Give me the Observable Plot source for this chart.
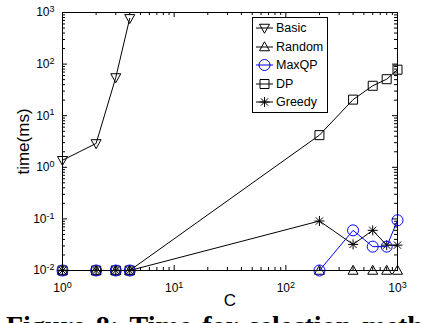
<!DOCTYPE html>
<html>
<head>
<meta charset="utf-8">
<script src="https://cdn.jsdelivr.net/npm/d3@7"></script>
<script src="https://cdn.jsdelivr.net/npm/@observablehq/plot@0.6"></script>
<style>
  html, body { margin: 0; padding: 0; background: white; }
  #wrap { position: relative; width: 423px; height: 323px; overflow: hidden; background: white; }
  #legend { position: absolute; left: 252px; top: 17px; width: 74px; height: 94px; border: 1px solid black; background: white;
            font-family: "Liberation Sans", Arial, sans-serif; font-size: 12.5px; }
  .lrow { position: absolute; left: 0; height: 18px; display: flex; align-items: center; }
  .lrow svg { display: block; margin-left: 2px; }
  .lrow span { margin-left: 2px; }
  #caption { position: absolute; left: 6px; top: 312px; font-family: "Liberation Serif", "DejaVu Serif", serif; font-weight: bold;
             font-size: 28px; line-height: 28px; white-space: nowrap; word-spacing: 4px; }
</style>
</head>
<body>
<div id="wrap"></div>
<script>
// ---- data ----
const cBasic = [1, 2, 3, 4];
const basic = [1.37, 2.9, 55, 770];
const cAll = [1, 2, 3, 4, 200, 400, 600, 800, 1000];
const random = [0.01, 0.01, 0.01, 0.01, 0.01, 0.01, 0.01, 0.01, 0.01];
const maxqp = [0.01, 0.01, 0.01, 0.01, 0.01, 0.06, 0.029, 0.029, 0.094];
const dp = [0.01, 0.01, 0.01, 0.01, 4.2, 20.5, 38, 51, 78];
const greedy = [0.01, 0.01, 0.01, 0.01, 0.091, 0.032, 0.06, 0.031, 0.031];
const seriesNames = ["Basic", "Random", "MaxQP", "DP", "Greedy"];
const seriesColors = ["black", "black", "#0000ff", "black", "black"];
const xTicks = [1, 10, 100, 1000];
const yTicks = [0.01, 0.1, 1, 10, 100, 1000];
const xLabel = "C";
const yLabel = "time(ms)";
const captionText = "Figure 8: Time for selection methods";

// ---- marker symbols ----
const rad = size => Math.sqrt(size / Math.PI);
const symTriDown = { draw(ctx, size) { const r = rad(size); ctx.moveTo(-r, -r * 0.75); ctx.lineTo(r, -r * 0.75); ctx.lineTo(0, r * 1.05); ctx.closePath(); } };
const symTriUp = { draw(ctx, size) { const r = rad(size); ctx.moveTo(-r, r * 0.75); ctx.lineTo(r, r * 0.75); ctx.lineTo(0, -r * 1.05); ctx.closePath(); } };
const symCircle = { draw(ctx, size) { const r = rad(size) * 1.1; ctx.moveTo(r, 0); ctx.arc(0, 0, r, 0, 2 * Math.PI); } };
const symSquare = { draw(ctx, size) { const r = rad(size) * 0.9; ctx.rect(-r, -r, 2 * r, 2 * r); } };
const symStar = { draw(ctx, size) { const r = rad(size); const d = r * 0.72;
  ctx.moveTo(-r, 0); ctx.lineTo(r, 0); ctx.moveTo(0, -r); ctx.lineTo(0, r);
  ctx.moveTo(-d, -d); ctx.lineTo(d, d); ctx.moveTo(-d, d); ctx.lineTo(d, -d); } };
const seriesSymbols = [symTriDown, symTriUp, symCircle, symSquare, symStar];

// ---- tables ----
const rows = (xs, ys, name) => xs.map((c, i) => ({ c, v: ys[i], name }));
const seriesData = [
  rows(cBasic, basic, "Basic"),
  rows(cAll, random, "Random"),
  rows(cAll, maxqp, "MaxQP"),
  rows(cAll, dp, "DP"),
  rows(cAll, greedy, "Greedy")
];
const decadesMinor = (lo, hi) => { const out = []; for (let p = lo; p < hi; p++) for (let k = 2; k <= 9; k++) out.push(k * Math.pow(10, p)); return out; };
const xMinor = decadesMinor(0, 3);
const yMinor = decadesMinor(-2, 3);

const W = 423, H = 310, mL = 62, mR = 26, mT = 12, mB = 40;
const fw = W - mL - mR, fh = H - mT - mB;
const majLen = 5, minLen = 3;

const seriesMarks = seriesData.flatMap((d, i) => [
  Plot.line(d, { x: "c", y: "v", stroke: seriesColors[i], strokeWidth: 1 }),
  Plot.dot(d, { x: "c", y: "v", stroke: seriesColors[i], fill: "none", strokeWidth: 1, r: 5, symbol: seriesSymbols[i] })
]);
// draw order: Basic, Random, DP, Greedy, then MaxQP on top of the baseline
const order = [0, 1, 3, 4, 2];
const orderedMarks = order.flatMap(i => seriesMarks.slice(2 * i, 2 * i + 2));

const expFmt = d => "10^" + Math.round(Math.log10(d));

const chart = Plot.plot({
  width: W, height: H,
  marginLeft: mL, marginRight: mR, marginTop: mT, marginBottom: mB,
  x: { type: "log", domain: [1, 1000] },
  y: { type: "log", domain: [0.01, 1000] },
  style: { fontFamily: "'Liberation Sans', Arial, sans-serif", fontSize: "12px", color: "black", background: "white" },
  marks: [
    Plot.axisX(xTicks, { tickSize: 0, tickPadding: 13, tickFormat: expFmt, label: null, fontSize: 12 }),
    Plot.axisY(yTicks, { tickSize: 0, tickPadding: 8, tickFormat: expFmt, label: null, fontSize: 12 }),
    Plot.axisX([], { label: xLabel, labelAnchor: "center", labelArrow: "none", labelOffset: 35, fontSize: 17 }),
    Plot.axisY([], { label: yLabel, labelAnchor: "center", labelArrow: "none", labelOffset: 46, fontSize: 17 }),
    ...orderedMarks,
    // inward ticks (major & minor) on all four sides
    Plot.ruleX(xTicks, { x: d => d, insetTop: fh - majLen, stroke: "black" }),
    Plot.ruleX(xTicks, { x: d => d, insetBottom: fh - majLen, stroke: "black" }),
    Plot.ruleX(xMinor, { x: d => d, insetTop: fh - minLen, stroke: "black" }),
    Plot.ruleX(xMinor, { x: d => d, insetBottom: fh - minLen, stroke: "black" }),
    Plot.ruleY(yTicks, { y: d => d, insetRight: fw - majLen, stroke: "black" }),
    Plot.ruleY(yTicks, { y: d => d, insetLeft: fw - majLen, stroke: "black" }),
    Plot.ruleY(yMinor, { y: d => d, insetRight: fw - minLen, stroke: "black" }),
    Plot.ruleY(yMinor, { y: d => d, insetLeft: fw - minLen, stroke: "black" }),
    Plot.frame({ stroke: "black", strokeWidth: 1 })
  ]
});

// superscript exponents in tick labels
d3.select(chart).selectAll("text").each(function () {
  const t = this.textContent;
  const m = /^10\^(-?\d+)$/.exec(t);
  if (!m) return;
  const sel = d3.select(this);
  sel.text(null);
  sel.append("tspan").text("10");
  sel.append("tspan").attr("dy", "-0.45em").attr("font-size", "9px").text(m[1]);
});

const wrap = document.getElementById("wrap");
wrap.appendChild(chart);

// legend
const legend = document.createElement("div");
legend.id = "legend";
seriesNames.forEach((name, i) => {
  const row = document.createElement("div");
  row.className = "lrow";
  row.style.top = (1 + i * 18.6) + "px";
  const svg = d3.create("svg").attr("width", 19).attr("height", 14);
  svg.append("line").attr("x1", 1).attr("x2", 18).attr("y1", 7).attr("y2", 7).attr("stroke", seriesColors[i]).attr("stroke-width", 1);
  svg.append("path").attr("transform", "translate(9.5,7)").attr("d", d3.symbol(seriesSymbols[i], Math.PI * 25)())
     .attr("fill", "none").attr("stroke", seriesColors[i]).attr("stroke-width", 1);
  row.appendChild(svg.node());
  const span = document.createElement("span");
  span.textContent = name;
  row.appendChild(span);
  legend.appendChild(row);
});
wrap.appendChild(legend);

const cap = document.createElement("div");
cap.id = "caption";
cap.textContent = captionText;
wrap.appendChild(cap);
</script>
</body>
</html>
